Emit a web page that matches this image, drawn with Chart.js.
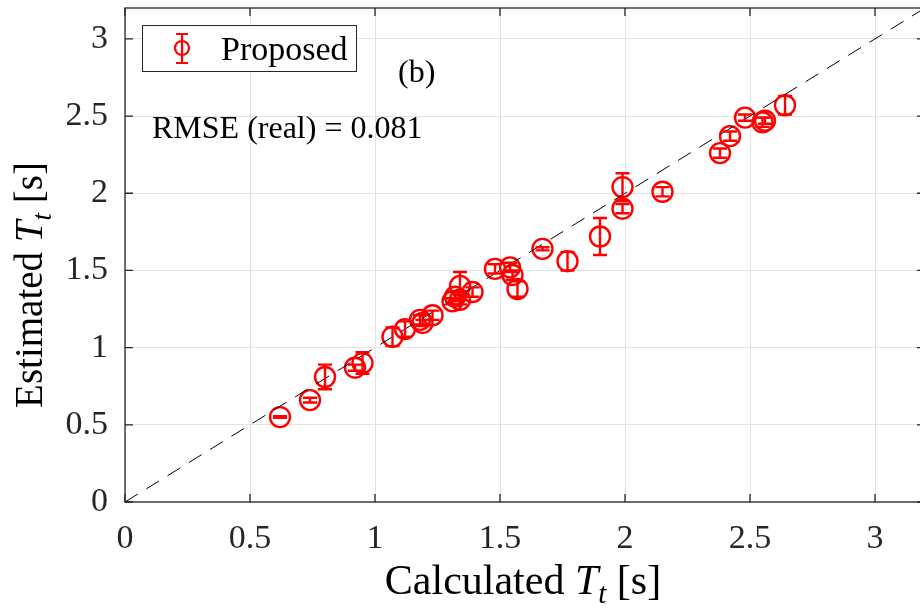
<!DOCTYPE html>
<html>
<head>
<meta charset="utf-8">
<script src="https://cdn.jsdelivr.net/npm/chart.js@4/dist/chart.umd.min.js"></script>
<style>
  html, body { margin: 0; padding: 0; background: #fff; overflow: hidden; }
  #wrap { width: 930px; height: 609px; }
</style>
</head>
<body>
<div id="wrap"><canvas id="tChart" width="930" height="609"></canvas></div>
<script>
// Calculated vs estimated Tt (s), with error half-widths
const calcT = [0.62, 0.74, 0.80, 0.92, 0.95, 1.07, 1.12, 1.18, 1.19, 1.23, 1.31, 1.32, 1.34, 1.34, 1.39,
  1.48, 1.54, 1.55, 1.57, 1.67, 1.77, 1.90, 1.99, 1.99, 2.15, 2.38, 2.42, 2.48, 2.55, 2.56, 2.64];
const estT = [0.55, 0.66, 0.81, 0.87, 0.90, 1.07, 1.12, 1.18, 1.16, 1.21, 1.30, 1.33, 1.40, 1.31, 1.36,
  1.51, 1.52, 1.47, 1.38, 1.64, 1.56, 1.72, 2.04, 1.90, 2.01, 2.26, 2.37, 2.49, 2.46, 2.47, 2.57];
const estErr = [0.005, 0.015, 0.08, 0.02, 0.07, 0.06, 0.05, 0.03, 0.02, 0.03, 0.02, 0.03, 0.09, 0.03, 0.03,
  0.03, 0.03, 0.03, 0.05, 0.01, 0.06, 0.12, 0.09, 0.03, 0.03, 0.03, 0.03, 0.02, 0.03, 0.02, 0.06];
const refLine = [0, 3.2];
const xTicks = [0, 0.5, 1, 1.5, 2, 2.5, 3];
const yTicks = [0, 0.5, 1, 1.5, 2, 2.5, 3];
const rmseText = "RMSE (real) = 0.081";
const panelTag = "(b)";

const RED = "#ff0000";
const AXIS = "#262626";
const SERIF = "'Liberation Serif', 'Times New Roman', serif";

function drawErrBar(ctx, x, yTop, yBot, cap) {
  ctx.beginPath();
  ctx.moveTo(x, yTop); ctx.lineTo(x, yBot);
  ctx.moveTo(x - cap, yTop); ctx.lineTo(x + cap, yTop);
  ctx.moveTo(x - cap, yBot); ctx.lineTo(x + cap, yBot);
  ctx.stroke();
}

// error bars, box, inner ticks, titles and legend
const decorPlugin = {
  id: "decor",
  beforeDatasetsDraw(chart) {
    const { ctx, chartArea: a, scales } = chart;
    ctx.save();
    ctx.strokeStyle = AXIS;
    ctx.lineWidth = 1.3;
    ctx.strokeRect(a.left, a.top, a.right - a.left, a.bottom - a.top);
    ctx.beginPath();
    xTicks.forEach(v => {
      const px = scales.x.getPixelForValue(v);
      ctx.moveTo(px, a.bottom); ctx.lineTo(px, a.bottom - 8);
      ctx.moveTo(px, a.top); ctx.lineTo(px, a.top + 8);
    });
    yTicks.forEach(v => {
      const py = scales.y.getPixelForValue(v);
      ctx.moveTo(a.left, py); ctx.lineTo(a.left + 8, py);
      ctx.moveTo(a.right, py); ctx.lineTo(a.right - 8, py);
    });
    ctx.stroke();
    ctx.restore();
  },
  afterDatasetsDraw(chart) {
    const { ctx, scales } = chart;
    ctx.save();
    ctx.strokeStyle = RED;
    ctx.lineWidth = 2.4;
    calcT.forEach((cx, i) => {
      const px = scales.x.getPixelForValue(cx);
      const yTop = scales.y.getPixelForValue(estT[i] + estErr[i]);
      const yBot = scales.y.getPixelForValue(estT[i] - estErr[i]);
      drawErrBar(ctx, px, yTop, yBot, 7);
    });
    ctx.restore();
  },
  afterDraw(chart) {
    const { ctx, chartArea: a } = chart;
    ctx.save();
    ctx.fillStyle = "#000";
    ctx.textBaseline = "alphabetic";

    // text inside the axes
    ctx.font = "32px " + SERIF;
    ctx.textAlign = "left";
    ctx.fillText(rmseText, a.left + 27, 138);
    ctx.fillText(panelTag, a.left + 273, 82);

    // legend box
    ctx.fillStyle = "#fff";
    ctx.fillRect(142, 25, 215, 47);
    ctx.strokeStyle = AXIS;
    ctx.lineWidth = 1;
    ctx.strokeRect(142.5, 25.5, 214, 46);
    ctx.strokeStyle = RED;
    ctx.lineWidth = 2.2;
    drawErrBar(ctx, 182, 34, 63, 6);
    ctx.beginPath();
    ctx.arc(182, 48, 7, 0, Math.PI * 2);
    ctx.stroke();
    ctx.fillStyle = "#000";
    ctx.font = "34px " + SERIF;
    ctx.fillText(chart.data.datasets[0].label, 221, 60);

    // axis titles with italic T and subscript t
    const parts = (word, size) => [
      { t: word + " ", f: size + "px " + SERIF, dy: 0 },
      { t: "T", f: "italic " + size + "px " + SERIF, dy: 0 },
      { t: "t", f: "italic " + Math.round(size * 0.7) + "px " + SERIF, dy: Math.round(size * 0.22) },
      { t: " [s]", f: size + "px " + SERIF, dy: 0 }
    ];
    const drawTitle = (list, cx, base) => {
      let w = 0;
      list.forEach(p => { ctx.font = p.f; w += ctx.measureText(p.t).width; });
      let x = cx - w / 2;
      list.forEach(p => {
        ctx.font = p.f;
        ctx.fillText(p.t, x, base + p.dy);
        x += ctx.measureText(p.t).width;
      });
    };
    drawTitle(parts("Calculated", 42), 523, 594);
    ctx.translate(42, 285);
    ctx.rotate(-Math.PI / 2);
    drawTitle(parts("Estimated", 39), 0, 0);
    ctx.restore();
  }
};

const axisCommon = {
  type: "linear",
  min: 0,
  max: 3.2,
  grid: { color: "#e3e3e3", lineWidth: 1, drawTicks: false },
  border: { display: false },
  ticks: {
    color: AXIS,
    font: { family: SERIF, size: 34 },
    maxRotation: 0,
    autoSkip: false,
    callback: (v) => String(v)
  }
};

new Chart(document.getElementById("tChart"), {
  type: "scatter",
  data: {
    datasets: [
      {
        label: "Proposed",
        data: calcT.map((x, i) => ({ x: x, y: estT[i] })),
        pointStyle: "circle",
        pointRadius: 10,
        pointBorderWidth: 2.4,
        pointBorderColor: RED,
        pointBackgroundColor: "rgba(0,0,0,0)",
        order: 2
      },
      {
        label: "y = x",
        type: "line",
        data: refLine.map(v => ({ x: v, y: v })),
        borderColor: "#000",
        borderWidth: 1,
        borderDash: [15, 10],
        pointRadius: 0,
        fill: false,
        order: 1
      }
    ]
  },
  options: {
    responsive: false,
    animation: false,
    layout: { autoPadding: false, padding: { top: 8, right: 5, left: 0, bottom: 0 } },
    plugins: {
      legend: { display: false },
      tooltip: { enabled: false }
    },
    scales: {
      x: {
        ...axisCommon,
        position: "bottom",
        ticks: { ...axisCommon.ticks, padding: 17 },
        afterBuildTicks: (s) => { s.ticks = xTicks.map(v => ({ value: v })); },
        afterFit: (s) => { s.height = 107; s.paddingLeft = 0; s.paddingRight = 0; }
      },
      y: {
        ...axisCommon,
        position: "left",
        ticks: { ...axisCommon.ticks, padding: 17 },
        afterBuildTicks: (s) => { s.ticks = yTicks.map(v => ({ value: v })); },
        afterFit: (s) => { s.width = 125; s.paddingTop = 0; s.paddingBottom = 0; }
      }
    }
  },
  plugins: [decorPlugin]
});
</script>
</body>
</html>
